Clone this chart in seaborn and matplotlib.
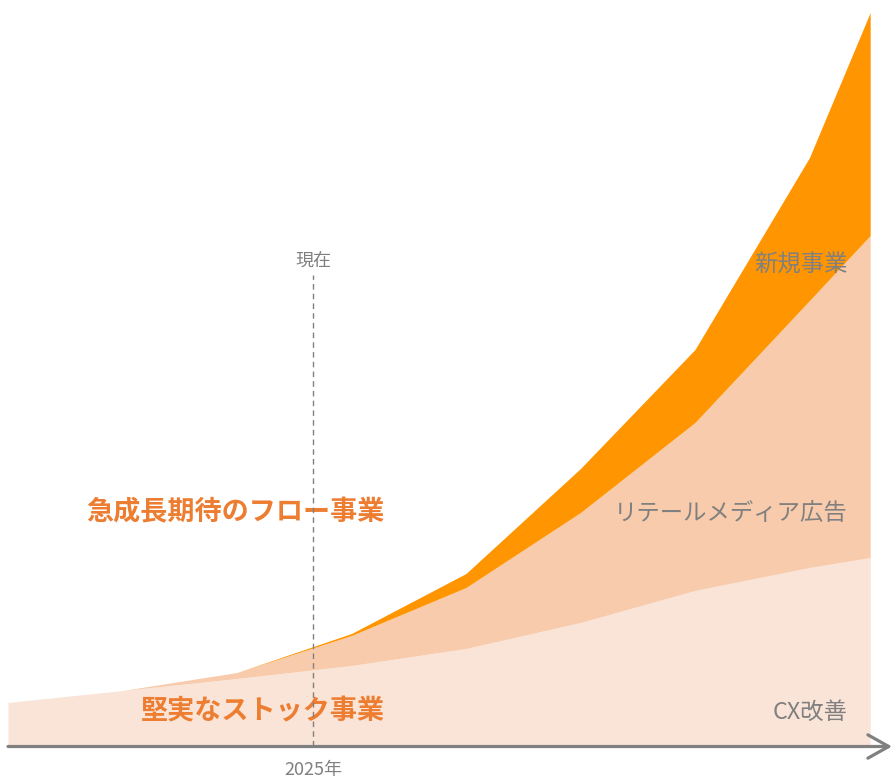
import matplotlib
matplotlib.use("Agg")
import matplotlib.pyplot as plt
import seaborn as sns
import numpy as np
import pandas as pd

# Periods along the horizontal axis (one step per period, last one a partial step)
periods = [0, 1, 2, 3, 4, 5, 6, 7, 7.53]
now_period = 2.664

# Stacked revenue components (arbitrary units)
cx_values = [43, 55, 67, 80, 97, 123, 155, 178, 188]
retail_values = [0, 0, 6, 30, 61, 110, 168, 267, 322]
new_values = [0, 0, 0, 2, 14, 44, 73, 143, 223]

series_names = ["CX改善", "リテールメディア広告", "新規事業"]
series_colors = ["#FAE4D7", "#F7CBAC", "#FF9500"]

flow_label = "急成長期待のフロー事業"
stock_label = "堅実なストック事業"
now_label = "現在"
year_label = "2025年"

sns.set_theme(style="white")
plt.rcParams["font.family"] = ["Noto Sans CJK JP", "DejaVu Sans"]

fig = plt.figure(figsize=(8.94, 7.78), dpi=100)
ax = fig.add_axes([0, 0, 1, 1])
ax.set_axis_off()

# Build the cumulative layers
df = pd.DataFrame({"period": periods, series_names[0]: cx_values,
                   series_names[1]: retail_values, series_names[2]: new_values})
layers = [np.array(df[n], dtype=float) for n in series_names]
lower = np.zeros(len(periods))
for vals, color, name in zip(layers, series_colors, series_names):
    upper = lower + vals
    # invisible seaborn line sets up the layer's outline, the fill gives the band
    sns.lineplot(x=df["period"], y=upper, ax=ax, color=color, linewidth=0,
                 zorder=1, legend=False)
    ax.fill_between(df["period"], lower, upper, color=color, linewidth=0, zorder=1)
    lower = upper

# Scale: one period = 114.5 px, baseline 32.5 px above the bottom edge
ax.set_xlim(-8 / 114.5, 886 / 114.5)
ax.set_ylim(-32.5, 745.5)

# Horizontal time axis with an open arrow head
gray = "#808080"
ax.annotate("", xy=(884 / 114.5, -1), xytext=(0, -1),
            arrowprops=dict(arrowstyle="->,head_length=0.75,head_width=0.42",
                            color=gray, lw=2.3, shrinkA=0, shrinkB=0,
                            mutation_scale=20),
            annotation_clip=False, zorder=3)

# "Now" marker, drawn over the group labels
ax.vlines(now_period, 0, 471, colors=gray, linestyles=(0, (4, 3)),
          linewidth=1.0, zorder=6)
ax.text(313 / 894, 1 - 262 / 778, now_label, transform=fig.transFigure,
        ha="center", va="center", fontsize=13, color=gray)
ax.text(313 / 894, 1 - 770 / 778, year_label, transform=fig.transFigure,
        ha="center", va="center", fontsize=13, color=gray)

# Group labels
accent = "#ED7D31"
ax.text(385 / 894, 1 - 512 / 778, flow_label, transform=fig.transFigure,
        ha="right", va="center", fontsize=19.5, fontweight="bold",
        color=accent, zorder=4)
ax.text(385 / 894, 1 - 711 / 778, stock_label, transform=fig.transFigure,
        ha="right", va="center", fontsize=19.5, fontweight="bold",
        color=accent, zorder=4)

# Series labels
label_y = [712, 513, 265]
for name, y in zip(series_names, label_y):
    ax.text(848 / 894, 1 - y / 778, name, transform=fig.transFigure,
            ha="right", va="center", fontsize=16.8, color=gray, zorder=4)

fig.savefig("out.png", dpi=100)
